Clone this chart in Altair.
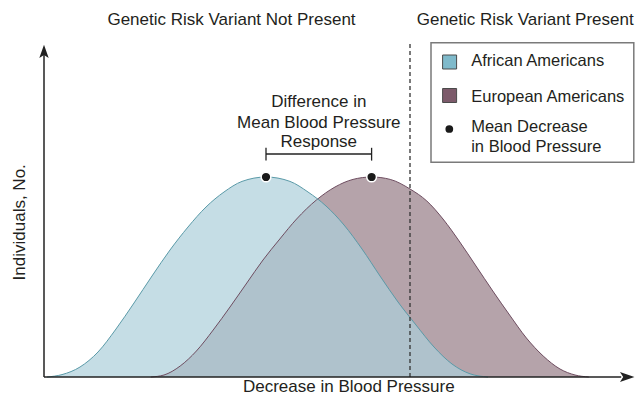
import altair as alt
import pandas as pd

# ---- data (x: blood-pressure decrease units, y: individuals) ----
african_u = [0.5, 3, 6, 9, 12, 15, 18, 21, 24, 27, 30, 33, 37, 41, 44, 47, 50, 53, 56, 59, 62, 65, 68, 71, 74]
african_v = [0, 1.2, 5, 12.5, 24, 37, 50.5, 63.5, 75, 85, 92.5, 97.8, 100, 97.8, 92.5, 85.5, 76, 64, 50.5, 37.5, 26, 15, 6.5, 1.6, 0]

european_u = [17.8, 20, 22.7, 25.4, 28.2, 31, 33.8, 36.5, 39.3, 42.1, 45.4, 48.5, 51.5, 54.6, 57.7, 61, 63.8,
              66.5, 69.3, 72, 74.8, 77.6, 80.4, 83.2, 86, 88.5, 90.8]
european_v = [0, 1, 5.5, 13, 23.5, 35, 47, 58.5, 69, 79, 88.5, 95, 98.8, 100, 98.8, 94, 88, 79, 67.5, 55.5, 43,
              31, 19.5, 10.5, 4, 1, 0]

mean_u = [37, 54.6]
mean_v = [100, 100]

threshold_u = 61

group_labels = ["Genetic Risk Variant Not Present", "Genetic Risk Variant Present"]
annotation_lines = ["Difference in", "Mean Blood Pressure", "Response"]
legend_labels = ["African Americans", "European Americans", "Mean Decrease", "in Blood Pressure"]
x_title = "Decrease in Blood Pressure"
y_title = "Individuals, No."

FONT = "Liberation Sans"
TXT = "#231f20"
XS = alt.Scale(domain=[-6, 98.5], nice=False, zero=False)
YS = alt.Scale(domain=[-9, 184.5], nice=False, zero=False)


def X(f="u"):
    return alt.X(f"{f}:Q", scale=XS, axis=None)


def Y(f="v"):
    return alt.Y(f"{f}:Q", scale=YS, axis=None)


af = pd.DataFrame({"u": african_u, "v": african_v, "v0": 0})
eu = pd.DataFrame({"u": european_u, "v": european_v, "v0": 0})

eu_area = alt.Chart(eu).mark_area(interpolate="monotone", color="#b5a3aa").encode(
    x=X(), y=Y(), y2=alt.Y2("v0:Q"))
af_area = alt.Chart(af).mark_area(interpolate="monotone", color="#acceda", opacity=0.7).encode(
    x=X(), y=Y(), y2=alt.Y2("v0:Q"))
eu_line = alt.Chart(eu).mark_line(interpolate="monotone", color="#6e4d60", strokeWidth=1).encode(x=X(), y=Y())
af_line = alt.Chart(af).mark_line(interpolate="monotone", color="#5a9aa8", strokeWidth=1).encode(x=X(), y=Y())

# dashed threshold line
thr = pd.DataFrame({"u": [threshold_u], "v": [0], "v2": [167.15]})
thr_rule = alt.Chart(thr).mark_rule(color="#333333", strokeDash=[4, 3], strokeWidth=1.3).encode(
    x=X(), y=Y(), y2=alt.Y2("v2:Q"))

# axes
axes = pd.DataFrame({"u": [0, 0], "u2": [0, 96.2], "v": [0, 0], "v2": [162, 0]})
axis_rules = alt.Chart(axes).mark_rule(color="#222222", strokeWidth=1.5).encode(
    x=X(), x2=alt.X2("u2:Q"), y=Y(), y2=alt.Y2("v2:Q"))
xarrow = alt.Chart(pd.DataFrame({"u": [97.2], "v": [0]})).mark_point(
    shape="M1,0 L-1,-0.7 L-0.55,0 L-1,0.7 Z", filled=True, opacity=1, color="#222222", size=210).encode(x=X(), y=Y())
yarrow = alt.Chart(pd.DataFrame({"u": [0], "v": [162.8]})).mark_point(
    shape="M0,-1 L-0.7,1 L0,0.55 L0.7,1 Z", filled=True, opacity=1, color="#222222", size=180).encode(x=X(), y=Y())

# bracket
br = pd.DataFrame({"u": [mean_u[0], mean_u[0], mean_u[1]], "u2": [mean_u[1], mean_u[0], mean_u[1]],
                   "v": [111.5, 108.2, 108.2], "v2": [111.5, 114.6, 114.6]})
bracket = alt.Chart(br).mark_rule(color="#222222", strokeWidth=1.3).encode(
    x=X(), x2=alt.X2("u2:Q"), y=Y(), y2=alt.Y2("v2:Q"))

# mean dots
md = pd.DataFrame({"u": mean_u, "v": mean_v})
dots = alt.Chart(md).mark_point(shape="circle", filled=True, opacity=1, fill="#1a1a1a", stroke="white",
                                strokeWidth=1.5, size=95).encode(x=X(), y=Y())

# centered texts
ct = pd.DataFrame({
    "u": [31.25, 80.2, 45.8, 45.8, 45.8, 50.8],
    "v": [176, 176, 135.15, 124.35, 115.15, -7.3],
    "t": group_labels + annotation_lines + [x_title],
})
center_text = alt.Chart(ct).mark_text(align="center", baseline="alphabetic", font=FONT, fontSize=17,
                                      color=TXT).encode(x=X(), y=Y(), text="t:N")
yt = pd.DataFrame({"u": [-3.2], "v": [77.35], "t": [y_title]})
ytitle = alt.Chart(yt).mark_text(align="center", baseline="alphabetic", angle=270, font=FONT, fontSize=17,
                                 color=TXT).encode(x=X(), y=Y(), text="t:N")

# legend
box = pd.DataFrame({"u": [64.5], "u2": [98.3], "v": [107.35], "v2": [167.15]})
legend_box = alt.Chart(box).mark_rect(fill="white", stroke="#7a7a7a", strokeWidth=1.5).encode(
    x=X(), x2=alt.X2("u2:Q"), y=Y(), y2=alt.Y2("v2:Q"))
sw = pd.DataFrame({"u": [67.6, 67.6], "v": [157.5, 140.75], "c": ["#7fbacb", "#7c5a6a"]})
swatches = alt.Chart(sw).mark_point(shape="square", filled=True, opacity=1, stroke="#4a4a4a", strokeWidth=1,
                                    size=196).encode(x=X(), y=Y(), fill=alt.Fill("c:N", scale=None))
ld = pd.DataFrame({"u": [67.55], "v": [124]})
legend_dot = alt.Chart(ld).mark_point(shape="circle", filled=True, opacity=1, fill="#1a1a1a", size=60).encode(
    x=X(), y=Y())
lt = pd.DataFrame({"u": [71.2] * 4, "v": [155.3, 137.65, 122.65, 112.65], "t": legend_labels})
legend_text = alt.Chart(lt).mark_text(align="left", baseline="alphabetic", font=FONT, fontSize=16.5,
                                      color=TXT).encode(x=X(), y=Y(), text="t:N")

chart = alt.layer(
    eu_area, af_area, eu_line, af_line, thr_rule, axis_rules, xarrow, yarrow, bracket, dots,
    center_text, ytitle, legend_box, swatches, legend_dot, legend_text,
).properties(
    width=627, height=387, padding=0, autosize=alt.AutoSizeParams(type="none"), background="white"
).configure_view(stroke=None)

chart.save("out.html", embed_options={"renderer": "svg", "actions": False})
